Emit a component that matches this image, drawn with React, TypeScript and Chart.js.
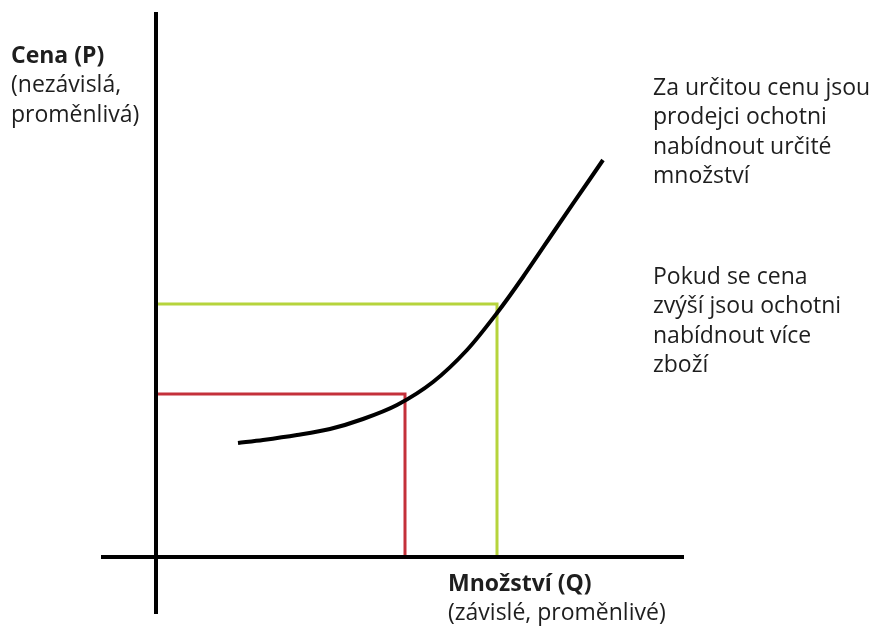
import React, { useEffect, useRef } from "react";
import { Chart, registerables } from "chart.js";

Chart.register(...registerables);

// Supply curve (quantity Q, price P) in chart units
const curveQ = [8.2, 10.7, 14.1, 17.4, 20.7, 24.1, 27.7, 31.1, 34.1, 36.7, 40.1, 43.4, 44.7];
const curveP = [11.4, 11.7, 12.2, 12.8, 13.8, 15.2, 17.5, 20.7, 24.4, 28.0, 33.0, 37.8, 39.7];

// Price/quantity reference pairs
const redPoint = { q: 24.9, p: 16.3 };
const greenPoint = { q: 34.1, p: 25.3 };

// Axis extents
const yAxisRange = [-5.7, 54.5];
const xAxisRange = [-5.5, 52.8];

// Texts
const priceLabel = ["Cena (P)", "(nezávislá,", "proměnlivá)"];
const qtyLabel = ["Množství (Q)", "(závislé, proměnlivé)"];
const note1 = ["Za určitou cenu jsou", "prodejci ochotni", "nabídnout určité", "množství"];
const note2 = ["Pokud se cena", "zvýší jsou ochotni", "nabídnout více", "zboží"];

const FONT = "'Open Sans', 'Noto Sans', sans-serif";

export default function App() {
  const ref = useRef<HTMLCanvasElement>(null);

  useEffect(() => {
    if (!ref.current) return;
    const textPlugin = {
      id: "texts",
      afterDraw(chart: any) {
        const ctx = chart.ctx;
        ctx.save();
        ctx.fillStyle = "#1e1e1e";
        ctx.textBaseline = "alphabetic";
        ctx.textAlign = "left";
        const block = (lines: string[], x: number, y: number, boldFirst: boolean) => {
          lines.forEach((t, i) => {
            ctx.font = (boldFirst && i === 0 ? "bold " : "") + "23px " + FONT;
            ctx.fillText(t, x, y + i * 29.3);
          });
        };
        block(priceLabel, 11, 63, true);
        block(qtyLabel, 448, 591, true);
        block(note1, 653, 95, false);
        block(note2, 653, 284, false);
        ctx.restore();
      },
    };

    const line = (pts: { x: number; y: number }[], color: string, width: number, order: number, tension = 0) => ({
      data: pts,
      showLine: true,
      borderColor: color,
      borderWidth: width,
      pointRadius: 0,
      tension,
      order,
      borderCapStyle: "butt",
    });

    const chart = new Chart(ref.current, {
      type: "scatter",
      data: {
        datasets: [
          line(curveQ.map((q, i) => ({ x: q, y: curveP[i] })), "#000", 4, 0, 0.3) as any,
          line(
            [
              { x: 0, y: redPoint.p },
              { x: redPoint.q, y: redPoint.p },
              { x: redPoint.q, y: 0 },
            ],
            "#C4303A",
            3,
            2
          ),
          line(
            [
              { x: 0, y: greenPoint.p },
              { x: greenPoint.q, y: greenPoint.p },
              { x: greenPoint.q, y: 0 },
            ],
            "#B6D43C",
            3,
            2
          ),
          line(
            [
              { x: 0, y: yAxisRange[1] },
              { x: 0, y: yAxisRange[0] },
            ],
            "#000",
            4,
            1
          ),
          line(
            [
              { x: xAxisRange[0], y: 0 },
              { x: xAxisRange[1], y: 0 },
            ],
            "#000",
            4,
            1
          ),
        ],
      },
      options: {
        responsive: false,
        animation: false,
        layout: { padding: 0 },
        plugins: { legend: { display: false }, tooltip: { enabled: false } },
        events: [],
        scales: {
          x: { type: "linear", display: false, min: -15.6, max: 73.1 },
          y: { type: "linear", display: false, min: -7.9, max: 55.7 },
        },
        datasets: { scatter: { clip: false } as any },
      } as any,
      plugins: [textPlugin],
    });
    return () => chart.destroy();
  }, []);

  return (
    <div style={{ position: "fixed", left: 0, top: 0, width: 887, height: 636, background: "#fff" }}>
      <canvas ref={ref} width={887} height={636} style={{ display: "block" }} />
    </div>
  );
}
